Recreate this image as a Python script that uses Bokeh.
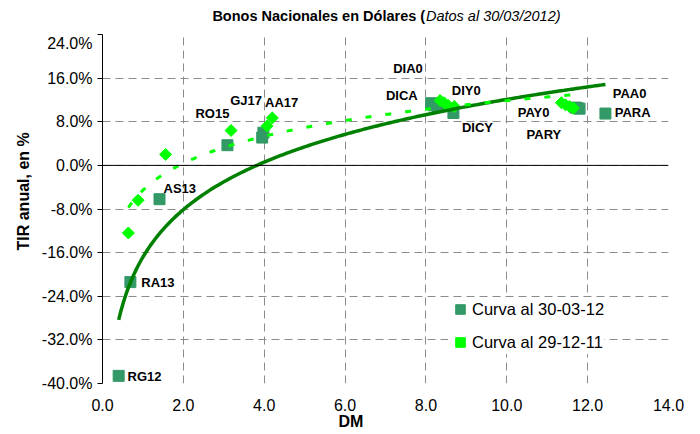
import numpy as np
from bokeh.plotting import figure
from bokeh.layouts import column
from bokeh.models import (Range1d, FixedTicker, PrintfTickFormatter, NumeralTickFormatter,
                          Span, Title, Legend, LegendItem)
from bokeh.core.properties import value
from bokeh.embed import file_html
from bokeh.resources import INLINE

# ---- data ----
bonds = ["RG12", "RA13", "AS13", "RO15", "GJ17", "AA17", "DICA", "DIA0", "DIY0", "DICY",
         "PAY0", "PARY", "PAA0", "PARA"]
dm_mar = [0.40, 0.69, 1.41, 3.09, 3.95, 3.98, 8.13, 8.20, 8.30, 8.68, 11.70, 11.80, 11.75, 12.44]
tir_mar = [-38.6, -21.4, -6.2, 3.7, 5.1, 6.0, 11.4, 11.0, 10.8, 9.6, 10.6, 10.4, 10.5, 9.5]
dm_dec = [0.64, 0.88, 1.56, 3.18, 4.07, 4.20, 8.35, 8.45, 8.55, 8.70, 11.35, 11.45, 11.55, 11.65]
tir_dec = [-12.4, -6.4, 2.0, 6.4, 7.2, 8.7, 11.9, 11.5, 11.0, 10.8, 11.5, 11.1, 10.8, 10.5]

# label anchors (left edge, vertical middle) in data units
label_x = [0.62, 0.96, 1.51, 2.30, 3.16, 4.02, 7.01, 7.19, 8.64, 8.89, 10.27, 10.49, 12.62, 12.67]
label_y = [-38.7, -21.4, -4.2, 9.5, 11.9, 11.5, 12.8, 17.8, 13.7, 7.0, 9.7, 5.7, 13.2, 9.7]

x_ticks = [0, 2, 4, 6, 8, 10, 12, 14]
y_ticks = [-40, -32, -24, -16, -8, 0, 8, 16, 24]

series_names = ["Curva al 30-03-12", "Curva al 29-12-11"]
title_bold = "Bonos Nacionales en Dólares ("
title_italic = "Datos al 30/03/2012)"
x_title = "DM"
y_title = "TIR anual, en %"

FONT = "Liberation Sans"
W = 700

# ---- title strip (a frame-only figure so both title parts are real SVG text) ----
TH = 34
pt = figure(width=W, height=TH, output_backend="svg", toolbar_location=None,
            x_range=Range1d(0, W), y_range=Range1d(0, TH),
            x_axis_location=None, y_axis_location=None, min_border=0,
            background_fill_color="white", border_fill_color="white")
pt.outline_line_color = None
pt.grid.visible = False
pt.text(x=[399], y=[TH - 15], text=[title_bold], text_font=value(FONT),
        text_font_style="bold", text_font_size="14.5px", text_align="right",
        text_baseline="middle", text_color="black")
pt.text(x=[400], y=[TH - 15], text=[title_italic], text_font=value(FONT),
        text_font_style="italic", text_font_size="14.5px", text_align="left",
        text_baseline="middle", text_color="black")

# ---- main chart ----
p = figure(width=W, height=400, output_backend="svg", toolbar_location=None,
           x_range=Range1d(0, 14), y_range=Range1d(-40, 24),
           min_border_left=102, min_border_right=32, min_border_top=0, min_border_bottom=51,
           background_fill_color="white", border_fill_color="white")
p.outline_line_color = None

# grid
p.xgrid.ticker = FixedTicker(ticks=x_ticks)
p.ygrid.ticker = FixedTicker(ticks=y_ticks)
for g in (p.xgrid, p.ygrid):
    g.grid_line_color = "#8c8c8c"
    g.grid_line_dash = "8 5"
    g.grid_line_width = 1

# axes
p.xaxis.ticker = FixedTicker(ticks=x_ticks)
p.xaxis.formatter = NumeralTickFormatter(format="0.0")
p.xaxis.axis_line_color = None
p.xaxis.major_tick_line_color = None
p.xaxis.minor_tick_line_color = None
p.xaxis.major_tick_out = 0
p.xaxis.major_tick_in = 0
p.xaxis.major_label_standoff = 15

p.yaxis.ticker = FixedTicker(ticks=y_ticks)
p.yaxis.formatter = PrintfTickFormatter(format="%.1f%%")
p.yaxis.axis_line_color = "black"
p.yaxis.major_tick_line_color = "black"
p.yaxis.minor_tick_line_color = None
p.yaxis.major_tick_out = 5
p.yaxis.major_tick_in = 0
p.yaxis.major_label_standoff = 5

for ax in (p.xaxis, p.yaxis):
    ax.major_label_text_font = FONT
    ax.major_label_text_font_size = "16px"
    ax.major_label_text_color = "black"

# axis titles
p.add_layout(Title(text=y_title, align="left", vertical_align="middle", offset=133,
                   standoff=12, text_font=FONT, text_font_style="bold",
                   text_font_size="16px", text_color="black"), "left")
p.add_layout(Title(text=x_title, align="left", vertical_align="middle", offset=236,
                   standoff=-3, text_font=FONT, text_font_style="bold",
                   text_font_size="16px", text_color="black"), "below")

# zero line
p.add_layout(Span(location=0, dimension="width", line_color="black", line_width=1))

# markers
sq = p.scatter(dm_mar, tir_mar, marker="square", size=11, fill_color="#339966",
               line_color="#339966")
di = p.scatter(dm_dec, tir_dec, marker="square", angle=np.pi / 4, size=8.5,
               fill_color="#00ff00", line_color="#00ff00")

# logarithmic trend lines fitted to the data
def log_fit(xv, yv):
    xv = np.asarray(xv, float)
    yv = np.asarray(yv, float)
    b, a = np.polyfit(np.log(xv), yv, 1)
    xs = np.linspace(xv.min(), xv.max(), 200)
    return xs, a + b * np.log(xs)

xs1, ys1 = log_fit(dm_mar, tir_mar)
p.line(xs1, ys1, line_color="#008000", line_width=3.5)
xs2, ys2 = log_fit(dm_dec, tir_dec)
p.line(xs2, ys2, line_color="#00ff00", line_width=3, line_dash="6 14")

# bond labels
p.text(x=label_x, y=label_y, text=bonds, text_font=value(FONT), text_font_style="bold",
       text_font_size="13px", text_baseline="middle", text_align="left", text_color="black")

# legend
legend = Legend(items=[LegendItem(label=series_names[0], renderers=[sq]),
                       LegendItem(label=series_names[1], renderers=[di])],
                location=(346, 29), orientation="vertical",
                glyph_width=24, glyph_height=24, label_height=24, spacing=9,
                label_standoff=0, padding=4, margin=0,
                label_text_font=FONT, label_text_font_size="16.5px",
                label_text_color="black",
                border_line_color=None, background_fill_color="white",
                background_fill_alpha=1.0)
p.add_layout(legend)

layout = column(pt, p, spacing=0)
open("out.html", "w").write(file_html(layout, INLINE))
